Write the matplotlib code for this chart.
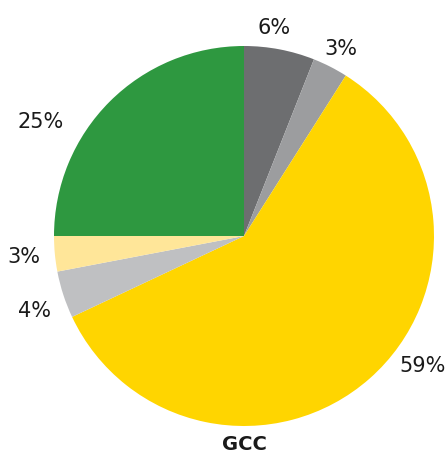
import matplotlib
matplotlib.use("Agg")
import matplotlib.pyplot as plt

# slices clockwise from 12 o'clock
shares = [6, 3, 59, 4, 3, 25]
labels = ["6%", "3%", "59%", "4%", "3%", "25%"]
colors = ["#6d6e70", "#9c9d9f", "#ffd500", "#bfc0c2", "#ffe699", "#2e9840"]
title = "GCC"

# label centres in pixels (x, y from top), converted to data units below
label_px = [(274, 28), (341, 49), (423, 366), (34, 311), (24, 257), (41, 122)]

W, H = 448, 455
cx, cy, R = 244, 236, 190

fig = plt.figure(figsize=(W / 100, H / 100), dpi=100)
ax = fig.add_axes([0, 0, 1, 1])
ax.pie(shares, colors=colors, startangle=90, counterclock=False, radius=1,
       wedgeprops=dict(linewidth=0))
ax.set_xlim(-cx / R, (W - cx) / R)
ax.set_ylim(-(H - cy) / R, cy / R)
ax.set_aspect("equal")
ax.axis("off")

for lab, (px, py) in zip(labels, label_px):
    ax.text((px - cx) / R, (cy - py) / R, lab, ha="center", va="center",
            fontsize=15, family="DejaVu Sans", color="#1a1a1a")

ax.text(0, (cy - 445) / R, title, ha="center", va="center", fontsize=14,
        family="DejaVu Sans", fontweight="bold", color="#1a1a1a")

fig.savefig("out.png", dpi=100)
